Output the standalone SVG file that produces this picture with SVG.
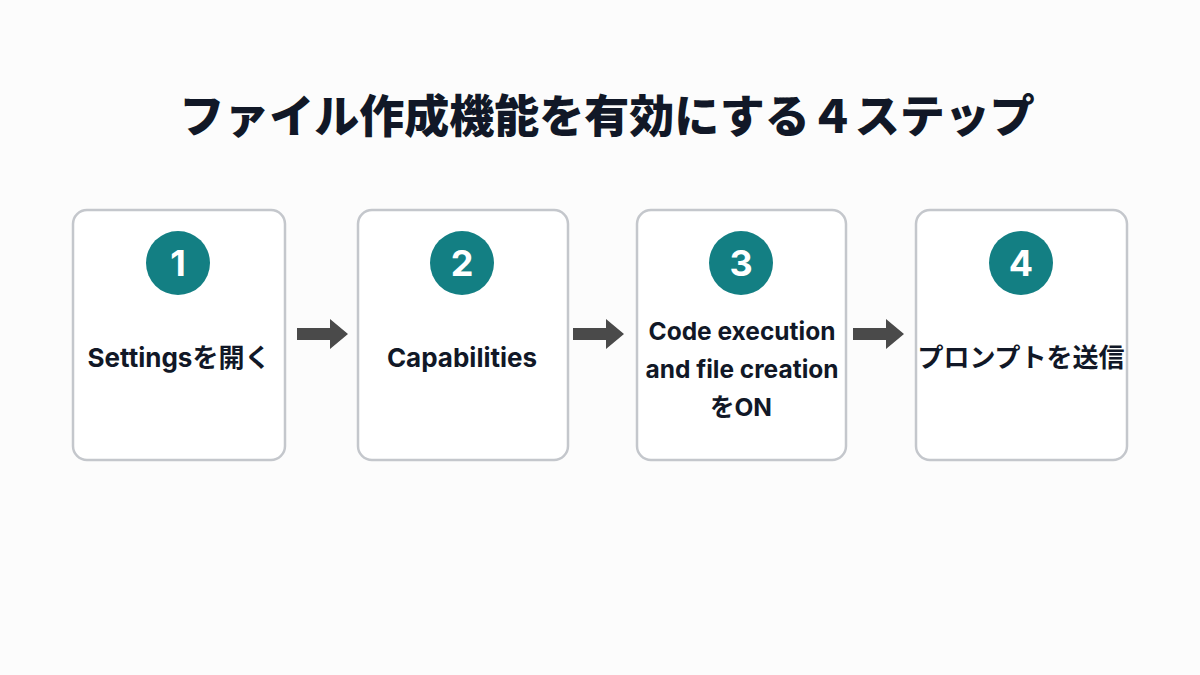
<svg xmlns="http://www.w3.org/2000/svg" width="1200" height="675" viewBox="0 0 1200 675">
<style>
.box{fill:#fff;stroke:#c4c7cc;stroke-width:2.5}
.c{fill:#137f83}
.n{font-family:Inter,"Liberation Sans",sans-serif;font-weight:700;font-size:36px;fill:#fff;text-anchor:middle}
.t{font-family:Inter,"Noto Sans CJK JP",sans-serif;font-weight:700;font-size:26px;fill:#111827;text-anchor:middle}
.s{font-size:24.5px}
.a{fill:#4a4a4a}
</style>
<rect width="1200" height="675" fill="#fcfcfc"/>
<text x="607" y="133" font-family="'Noto Sans CJK JP',sans-serif" font-weight="900" font-size="45" fill="#111827" text-anchor="middle">ファイル作成機能を有効にする４ステップ</text>
<g id="n1"><rect class="box" x="73" y="210" width="212" height="250" rx="14"/><circle class="c" cx="178" cy="263" r="32"/><text class="n" x="178" y="276">1</text><text class="t" x="179" y="367">Settingsを開く</text></g>
<g id="n2"><rect class="box" x="358" y="210" width="210" height="250" rx="14"/><circle class="c" cx="462" cy="263" r="32"/><text class="n" x="462" y="276">2</text><text class="t" x="462" y="367">Capabilities</text></g>
<g id="n3"><rect class="box" x="637" y="210" width="209" height="250" rx="14"/><circle class="c" cx="741" cy="263" r="32"/><text class="n" x="741" y="276">3</text><text class="t s" x="742" y="340">Code execution</text><text class="t s" x="742" y="378">and file creation</text><text class="t s" x="741" y="416">をON</text></g>
<g id="n4"><rect class="box" x="916" y="210" width="211" height="250" rx="14"/><circle class="c" cx="1021" cy="263" r="32"/><text class="n" x="1021" y="276">4</text><text class="t" x="1021" y="367">プロンプトを送信</text></g>
<g id="connectors">
<polygon class="a" points="297,328 330,328 330,319 348,334 330,349 330,340 297,340"/>
<polygon class="a" points="573,328 606,328 606,319 624,334 606,349 606,340 573,340"/>
<polygon class="a" points="853,328 886,328 886,319 904,334 886,349 886,340 853,340"/>
</g>
</svg>
